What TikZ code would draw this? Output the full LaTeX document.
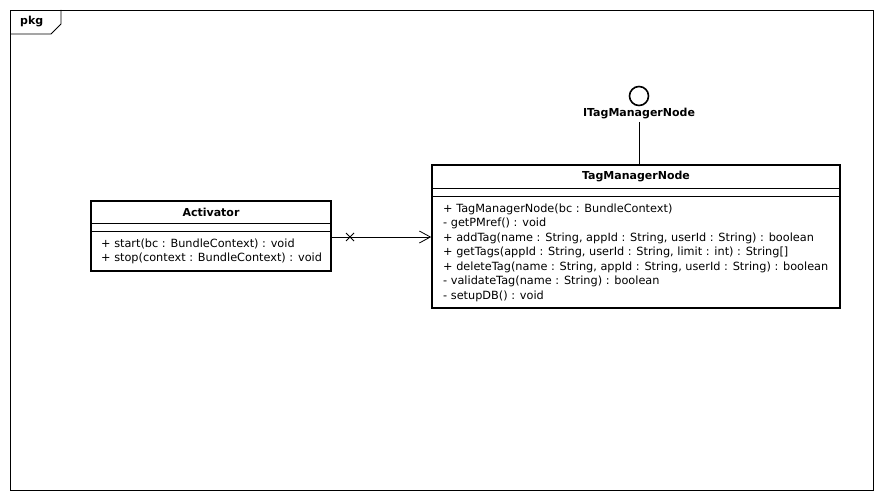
\documentclass[tikz,border=0pt]{standalone}
\usepackage{fontspec}
\setmainfont{DejaVu Sans}
\usetikzlibrary{arrows.meta}
\begin{document}
\begin{tikzpicture}[x=1pt,y=-1pt,
  classbox/.style={draw, line width=1.6pt, inner sep=0pt},
  thin line/.style={line width=0.8pt},
  title/.style={font=\fontsize{11}{13}\selectfont\bfseries, inner sep=0pt},
  members/.style={font=\fontsize{11.3}{14.5}\selectfont, align=left, anchor=west, inner sep=0pt},
]
\useasboundingbox (0,0) rectangle (883,500);
% frame
\draw[thin line] (10,10) rectangle (873,490);
\draw[thin line] (10,34) -- (51,34) -- (61,24) -- (61,10);
\node[font=\fontsize{11}{13}\selectfont\bfseries, anchor=west, inner sep=0pt] (pkg) at (20,22) {pkg};

% Activator
\node[classbox, minimum width=240, minimum height=70] (act) at (211,236) {};
\node[title] (actt) at (211,212) {Activator};
\draw[thin line] (act.west |- 0,223) -- (act.east |- 0,223);
\draw[thin line] (act.west |- 0,231) -- (act.east |- 0,231);
\node[members] (actm) at (101,251.5) {+ start(bc : BundleContext) : void\\+ stop(context : BundleContext) : void};

% TagManagerNode
\node[classbox, minimum width=408, minimum height=143] (tmn) at (636,236.5) {};
\node[title] (tmnt) at (636,177) {TagManagerNode};
\draw[thin line] (tmn.west |- 0,188) -- (tmn.east |- 0,188);
\draw[thin line] (tmn.west |- 0,196) -- (tmn.east |- 0,196);
\node[members] (tmnm) at (443,252.5) {+ TagManagerNode(bc : BundleContext)\\
- getPMref() : void\\
+ addTag(name : String, appId : String, userId : String) : boolean\\
+ getTags(appId : String, userId : String, limit : int) : String[]\\
+ deleteTag(name : String, appId : String, userId : String) : boolean\\
- validateTag(name : String) : boolean\\
- setupDB() : void};

% interface
\node[draw, circle, line width=1.6pt, minimum size=19, inner sep=0pt] (itf) at (639,96) {};
\node[title] (itfl) at (639,114) {ITagManagerNode};
\draw[thin line] (itfl.south |- 0,122) -- (tmn.north -| itfl.south);

% association
\draw[thin line, -{Straight Barb[length=11pt,width=12pt,line width=0.8pt]}] (act.east |- 0,237) -- (tmn.west |- 0,237);
\coordinate (xm) at (350,237);
\draw[thin line] ([shift={(-4,-4)}]xm) -- ([shift={(4,4)}]xm) ([shift={(-4,4)}]xm) -- ([shift={(4,-4)}]xm);
\end{tikzpicture}
\end{document}
